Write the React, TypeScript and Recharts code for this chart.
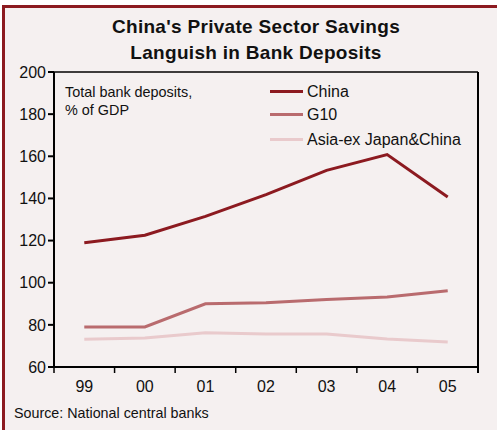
import { Line, LineChart, ReferenceLine, XAxis, YAxis } from "recharts";

const years = ["99", "00", "01", "02", "03", "04", "05"];
const china = [119, 122.5, 131.5, 141.8, 153.3, 160.8, 140.7];
const g10 = [79, 79, 90, 90.5, 92, 93.2, 96.2];
const asia = [73.2, 73.8, 76.2, 75.7, 75.7, 73.3, 71.9];
const yTicks = [60, 80, 100, 120, 140, 160, 180, 200];

const data = years.map((year, i) => ({ year, china: china[i], g10: g10[i], asia: asia[i] }));

const series = [
  { key: "china", name: "China", color: "#8c1a20" },
  { key: "g10", name: "G10", color: "#b96b6e" },
  { key: "asia", name: "Asia-ex Japan&China", color: "#e9cacc" }
];

const font = "'Liberation Sans', Arial, sans-serif";
const W = 497;
const H = 430;
const margin = { top: 72, right: 19, bottom: 33, left: 14 };
const plotTop = margin.top;
const plotRight = W - margin.right;
const axisY = 367;
const bandW = (plotRight - 54) / years.length;

// x labels at band centres, tick marks on the band edges
function YearTick(props: any) {
  const { x, payload } = props;
  const left = x - bandW / 2;
  return (
    <g>
      <line x1={left} x2={left} y1={axisY} y2={axisY + 6} stroke="#000" strokeWidth={1.5} />
      <text x={x} y={axisY + 25} textAnchor="middle" fontFamily={font} fontSize={16} fill="#111">
        {payload.value}
      </text>
    </g>
  );
}

function LegendBox() {
  return (
    <div style={{ position: "absolute", left: 270, top: 80, fontFamily: font, fontSize: 16, color: "#111" }}>
      {series.map((s, i) => (
        <div key={s.key} style={{ display: "flex", alignItems: "center", height: 23, marginBottom: i === 1 ? 2 : 0 }}>
          <div style={{ width: 33, height: 3, background: s.color, marginRight: 4 }} />
          <span>{s.name}</span>
        </div>
      ))}
    </div>
  );
}

export default function App() {
  return (
    <div style={{ position: "absolute", left: 0, top: 0, width: W, height: H, background: "#fff", overflow: "hidden" }}>
      <div
        style={{
          position: "absolute",
          left: 2,
          top: 5,
          width: W,
          height: H,
          background: "#f5f0f0",
          borderTop: "3px solid #8c1a20",
          borderLeft: "3px solid #8c1a20"
        }}
      />
      <div
        style={{
          position: "absolute",
          left: 0,
          width: 512,
          top: 14,
          textAlign: "center",
          fontFamily: font,
          fontWeight: "bold",
          fontSize: 19,
          lineHeight: "26px",
          color: "#111",
          letterSpacing: 0.3
        }}
      >
        China's Private Sector Savings
        <br />
        Languish in Bank Deposits
      </div>
      <div style={{ position: "absolute", left: 65, top: 83, fontFamily: font, fontSize: 14.4, lineHeight: "18px", color: "#111" }}>
        Total bank deposits,
        <br />% of GDP
      </div>
      <div style={{ position: "absolute", left: 14, top: 405, fontFamily: font, fontSize: 14.3, color: "#111" }}>
        Source: National central banks
      </div>
      <div style={{ position: "absolute", left: 0, top: 0 }}>
        <LineChart width={W} height={H} data={data} margin={margin}>
          <ReferenceLine y={200} stroke="#000" strokeWidth={1.5} />
          {series.map((s) => (
            <Line
              key={s.key}
              dataKey={s.key}
              name={s.name}
              type="linear"
              stroke={s.color}
              strokeWidth={3}
              dot={false}
              isAnimationActive={false}
            />
          ))}
          <XAxis
            dataKey="year"
            scale="band"
            tickLine={false}
            axisLine={{ stroke: "#000", strokeWidth: 2 }}
            height={30}
            tick={<YearTick />}
            interval={0}
          />
          <YAxis
            domain={[60, 200]}
            ticks={yTicks}
            width={40}
            tickSize={6}
            stroke="#000"
            strokeWidth={2}
            tick={{ fontFamily: font, fontSize: 16, fill: "#111", strokeWidth: 0 }}
          />
        </LineChart>
      </div>
      {/* right edge of the plot frame, down to the last tick mark */}
      <div style={{ position: "absolute", left: plotRight - 1, top: plotTop, width: 1.5, height: axisY + 6 - plotTop, background: "#000" }} />
      <LegendBox />
    </div>
  );
}
